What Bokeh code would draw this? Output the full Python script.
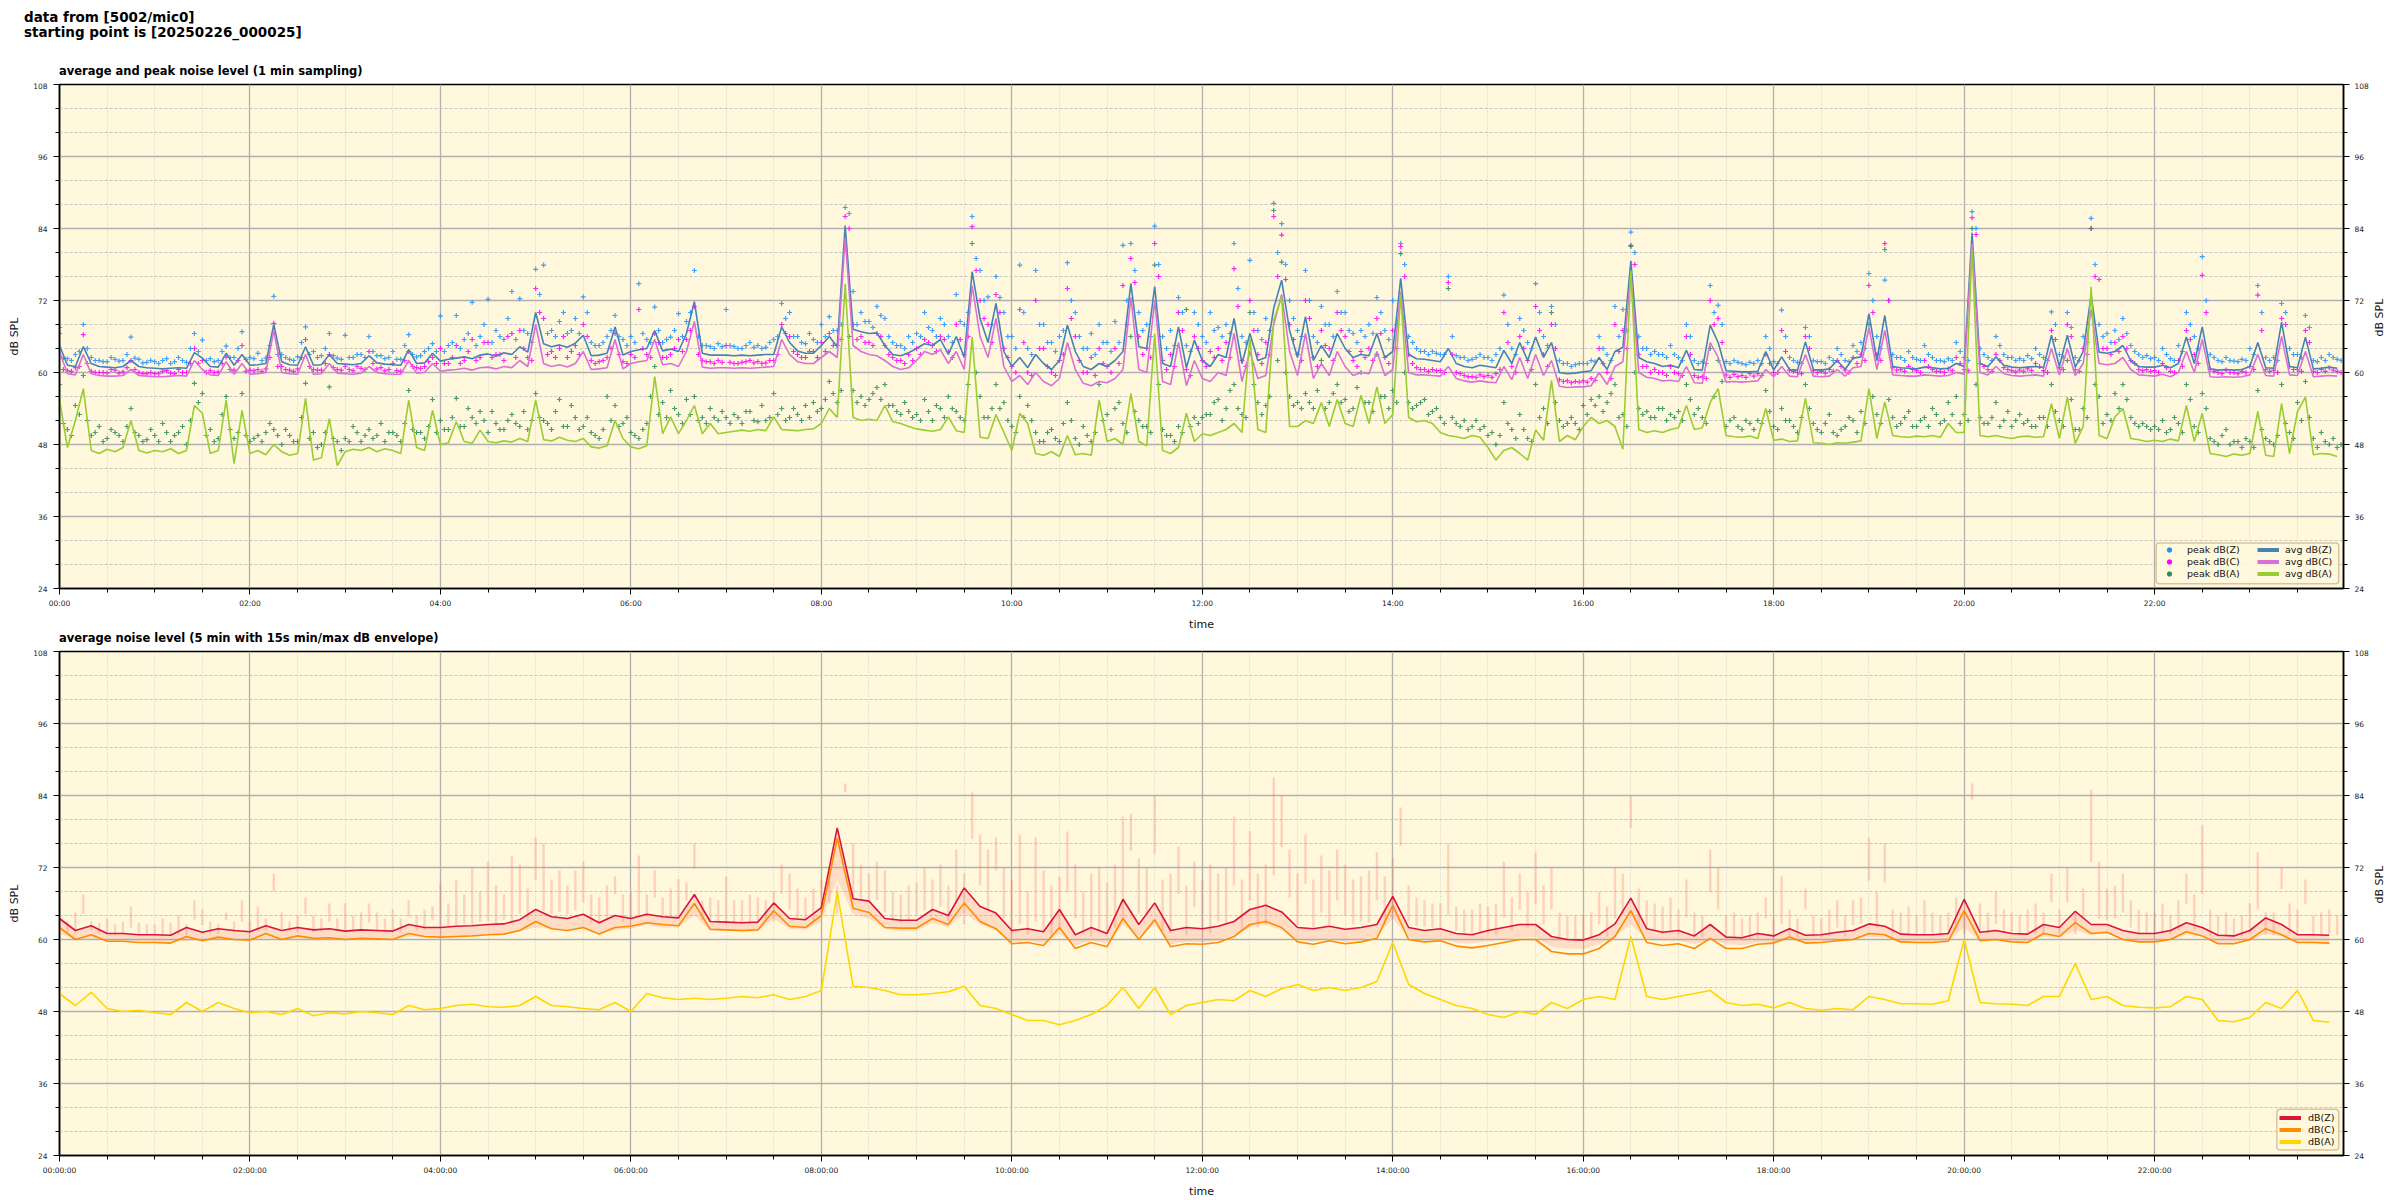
import math
from bokeh.plotting import figure
from bokeh.models import (Range1d, SingleIntervalTicker, LinearAxis, Legend, LegendItem,
                          Div, BoxAnnotation)
from bokeh.layouts import column
from bokeh.embed import file_html
from bokeh.resources import INLINE

# ---------------- data (minutes after 00:00) ----------------
t_top = list(range(0, 1440, 5))             # 1-min sampling, shown every 5 min
t_mid = [m + 2.5 for m in range(0, 1440, 5)]  # extra peak samples in between
t_bot = list(range(0, 1440, 10))            # 5-min averages, shown every 10 min

avg_z = [
    64.5, 61.2, 61.0, 64.3, 61.5, 61.0, 60.9, 60.8, 61.0, 62.0, 61.0, 60.8,
    60.7, 60.6, 60.7, 60.8, 60.7, 63.3, 62.4, 61.0, 60.9, 63.2, 61.2, 63.0,
    61.2, 61.3, 61.5, 68.0, 61.8, 61.3, 61.2, 64.3, 61.2, 61.3, 63.0, 61.5,
    61.4, 61.3, 61.5, 62.8, 61.6, 61.4, 61.3, 61.2, 63.8, 61.5, 61.6, 63.2,
    61.9, 62.2, 62.4, 62.6, 62.3, 62.9, 63.1, 62.7, 63.3, 63.0, 64.3, 63.4,
    70.0, 64.8, 64.3, 64.6, 64.2, 64.9, 66.2, 62.8, 62.9, 63.2, 67.6, 62.9,
    63.5, 63.8, 64.0, 67.0, 63.6, 63.9, 63.5, 66.5, 71.8, 63.2, 62.9, 62.9,
    62.9, 62.8, 62.9, 62.8, 62.9, 63.0, 63.0, 67.6, 65.0, 63.6, 63.2, 63.2,
    64.5, 66.0, 64.3, 84.5, 67.2, 66.8, 66.5, 66.6, 64.5, 63.0, 62.8, 63.3,
    64.0, 64.8, 64.5, 65.5, 63.0, 66.0, 62.5, 76.8, 69.0, 65.0, 71.5, 63.5,
    61.0, 62.5, 60.8, 63.0, 61.5, 60.5, 62.0, 67.9, 63.5, 61.0, 60.5, 61.5,
    61.0, 62.0, 63.5, 74.8, 64.3, 64.0, 74.3, 61.5, 61.0, 67.6, 60.8, 65.4,
    62.0, 61.0, 63.0, 62.5, 69.0, 61.5, 66.5, 62.0, 62.5, 70.7, 75.4, 67.0,
    62.5, 69.3, 62.0, 64.5, 62.5, 66.5, 64.0, 62.5, 63.0, 62.8, 66.5, 62.5,
    63.5, 75.7, 63.0, 62.3, 62.2, 62.0, 61.8, 64.0, 61.5, 61.0, 60.8, 61.2,
    61.0, 60.8, 63.7, 61.5, 65.0, 62.0, 65.9, 62.5, 65.0, 60.0, 59.8, 59.9,
    60.1, 60.3, 62.5, 60.5, 63.5, 64.2, 78.6, 62.5, 61.8, 61.5, 61.0, 61.2,
    60.8, 63.7, 60.5, 60.4, 67.9, 65.0, 60.3, 60.2, 60.1, 60.1, 60.2, 63.5,
    60.4, 62.6, 60.5, 60.4, 65.1, 60.5, 60.4, 60.6, 62.0, 60.5, 62.4, 62.6,
    69.8, 62.0, 69.5, 61.0, 60.8, 60.7, 60.6, 60.9, 60.8, 60.6, 60.7, 61.5,
    61.0, 83.3, 61.5, 61.0, 62.6, 61.2, 60.9, 60.8, 60.9, 61.0, 60.8, 66.2,
    61.0, 66.2, 60.9, 63.5, 72.9, 63.4, 63.2, 63.5, 64.5, 62.0, 61.0, 60.9,
    60.9, 61.2, 60.8, 61.5, 65.9, 61.5, 67.6, 60.6, 60.4, 60.5, 60.4, 60.5,
    61.0, 65.0, 60.8, 60.7, 68.4, 61.0, 60.8, 65.9, 60.6, 60.7, 60.9, 60.7,
]
avg_c = [
    63.5, 59.8, 59.6, 63.0, 59.8, 59.5, 59.4, 59.4, 59.5, 60.5, 59.5, 59.4,
    59.3, 59.3, 59.4, 59.5, 59.4, 62.0, 60.5, 59.6, 59.5, 61.8, 59.7, 61.5,
    59.7, 59.8, 60.0, 67.0, 60.0, 59.8, 59.7, 63.0, 59.7, 59.8, 61.5, 59.9,
    59.8, 59.7, 59.9, 61.0, 60.0, 59.8, 59.7, 59.7, 62.0, 59.9, 60.0, 61.5,
    60.2, 60.4, 60.5, 60.7, 60.4, 60.8, 60.9, 60.6, 61.0, 60.8, 62.0, 61.0,
    68.0, 61.5, 61.0, 61.3, 60.9, 61.5, 63.5, 60.5, 60.6, 60.8, 65.5, 60.6,
    61.5, 61.8, 62.0, 65.5, 61.3, 61.5, 61.0, 63.5, 68.5, 60.9, 60.7, 60.8,
    60.8, 60.7, 60.8, 60.7, 60.8, 60.9, 61.0, 65.5, 63.0, 61.8, 61.5, 61.5,
    62.5, 63.5, 62.5, 82.5, 64.5, 63.5, 63.0, 62.8, 62.0, 61.0, 60.5, 60.8,
    62.0, 63.5, 63.0, 63.8, 61.5, 63.5, 60.5, 74.5, 66.0, 62.5, 69.0, 61.0,
    58.5, 59.5, 58.0, 60.0, 58.5, 57.8, 59.0, 65.0, 60.5, 58.2, 57.8, 58.5,
    58.3, 59.0, 60.5, 72.5, 60.5, 60.0, 72.0, 58.5, 58.0, 65.0, 57.8, 62.0,
    59.0, 58.5, 60.0, 59.5, 66.5, 58.5, 63.5, 59.0, 59.5, 68.0, 73.0, 63.5,
    59.5, 66.5, 59.0, 61.5, 59.5, 63.5, 61.0, 59.5, 60.0, 59.8, 63.5, 59.5,
    60.5, 73.5, 60.0, 59.6, 59.6, 59.5, 59.4, 61.0, 59.0, 58.6, 58.4, 58.6,
    58.4, 58.3, 61.0, 58.8, 62.5, 59.0, 63.0, 59.5, 62.0, 57.7, 57.5, 57.6,
    57.6, 57.8, 60.0, 58.0, 61.0, 61.8, 76.5, 60.0, 59.2, 59.0, 58.6, 58.7,
    58.5, 61.0, 58.3, 58.2, 65.0, 62.5, 58.4, 58.5, 58.4, 58.5, 58.6, 60.5,
    59.3, 61.0, 59.4, 59.3, 63.0, 59.4, 59.3, 59.4, 60.5, 59.4, 60.8, 61.0,
    67.5, 60.5, 67.0, 59.6, 59.5, 59.4, 59.4, 59.6, 59.5, 59.4, 59.5, 60.0,
    59.7, 81.5, 60.0, 59.6, 61.0, 59.8, 59.5, 59.4, 59.5, 59.6, 59.4, 64.0,
    59.6, 64.0, 59.5, 61.5, 70.5, 61.5, 61.3, 61.5, 62.5, 60.5, 59.6, 59.5,
    59.4, 59.7, 59.3, 60.0, 63.5, 60.0, 65.5, 59.3, 59.2, 59.3, 59.2, 59.3,
    59.6, 63.0, 59.5, 59.4, 66.0, 59.6, 59.5, 63.5, 59.3, 59.4, 59.5, 59.4,
]
avg_a = [
    55.5, 47.5, 52.0, 57.3, 47.0, 46.5, 47.2, 46.8, 47.5, 52.0, 47.0, 46.6,
    47.0, 46.8, 47.3, 46.5, 47.0, 54.5, 53.2, 46.5, 47.0, 55.4, 44.8, 53.7,
    46.5, 47.0, 46.3, 48.0, 46.8, 46.2, 46.5, 55.7, 45.4, 45.8, 52.3, 44.5,
    46.8, 47.2, 47.0, 47.5, 46.8, 47.3, 47.0, 46.5, 55.4, 47.5, 47.0, 53.7,
    48.0, 48.3, 51.8, 48.5, 48.2, 50.4, 48.5, 48.3, 48.6, 48.4, 49.0, 48.5,
    55.4, 48.8, 48.6, 49.2, 48.7, 48.5, 49.0, 47.6, 47.4, 47.8, 52.0, 49.0,
    47.6, 47.3, 47.8, 59.3, 49.8, 52.6, 49.8, 52.0, 54.5, 49.8, 51.5, 49.8,
    50.0, 50.2, 50.4, 50.2, 50.5, 50.3, 52.6, 50.5, 50.4, 50.3, 50.5, 50.6,
    51.5, 54.0, 52.5, 74.8, 52.5, 52.0, 52.2, 52.0, 54.5, 51.8, 51.5, 51.0,
    50.6, 50.4, 50.2, 50.5, 52.6, 50.3, 50.0, 65.9, 49.2, 49.0, 53.0, 50.0,
    47.0, 53.2, 51.5, 46.5, 46.2, 46.8, 46.0, 49.5, 46.3, 46.5, 46.2, 55.4,
    48.5, 49.0, 48.0, 56.5, 48.5, 47.8, 66.5, 47.0, 46.5, 47.5, 53.2, 48.5,
    49.8, 49.5, 50.0, 50.5, 51.5, 50.0, 65.9, 50.5, 50.0, 68.7, 72.6, 51.0,
    51.0, 52.0, 51.5, 55.0, 51.0, 55.5, 51.5, 51.0, 56.2, 51.5, 57.6, 51.5,
    53.0, 73.0, 52.5, 51.8, 52.0, 51.5, 50.0, 49.5, 49.3, 49.0, 49.5, 49.2,
    47.5, 45.4, 47.0, 47.5, 46.5, 45.4, 50.4, 48.7, 58.7, 48.5, 49.5, 48.8,
    51.0, 52.5, 51.5, 52.0, 51.0, 47.2, 77.0, 50.5, 50.0, 50.3, 50.0, 50.5,
    50.8, 54.5, 50.5, 50.8, 55.0, 57.3, 49.5, 49.3, 49.2, 49.4, 49.0, 54.0,
    48.7, 48.9, 48.5, 48.6, 55.7, 48.3, 48.2, 48.0, 48.3, 48.2, 48.4, 48.6,
    57.3, 49.0, 55.1, 49.5, 49.3, 49.2, 49.4, 49.3, 49.5, 49.2, 51.5, 50.0,
    50.0, 80.5, 49.5, 49.3, 49.5, 49.2, 49.0, 49.3, 49.4, 49.2, 49.3, 54.8,
    49.0, 55.9, 48.2, 51.0, 74.3, 49.5, 49.0, 52.6, 54.0, 49.0, 48.8, 48.5,
    48.7, 48.5, 48.9, 48.6, 54.5, 48.5, 53.2, 46.5, 46.3, 46.0, 46.4, 46.2,
    46.5, 53.5, 46.2, 46.0, 54.8, 46.5, 53.5, 55.9, 46.3, 46.5, 46.4, 46.0,
]
peak_z = [
    67.5, 62.3, 63.0, 68.0, 62.5, 62.0, 61.8, 62.2, 62.0, 65.9, 62.2, 61.7,
    61.8, 62.0, 61.5, 62.5, 61.7, 66.5, 65.4, 62.3, 62.0, 64.4, 62.5, 66.8,
    62.5, 63.2, 62.4, 72.7, 63.0, 62.2, 62.6, 67.6, 63.5, 62.8, 66.5, 62.4,
    66.2, 62.5, 63.0, 66.0, 62.8, 62.3, 63.5, 62.2, 66.3, 62.6, 63.5, 64.8,
    69.4, 64.5, 69.5, 65.5, 71.7, 66.0, 72.2, 67.0, 65.5, 73.5, 72.3, 66.5,
    77.2, 77.9, 67.0, 68.5, 66.5, 69.0, 72.6, 65.0, 64.5, 66.0, 69.5, 65.5,
    66.0, 74.8, 65.5, 70.9, 65.0, 65.9, 69.8, 68.5, 77.0, 64.5, 64.3, 64.8,
    70.5, 64.3, 64.0, 65.0, 64.5, 64.2, 65.5, 71.5, 70.0, 66.0, 64.8, 65.5,
    68.0, 69.3, 67.0, 87.5, 73.5, 70.0, 68.5, 71.0, 69.0, 65.0, 64.5, 66.0,
    66.5, 70.0, 67.0, 69.0, 66.0, 73.0, 68.0, 86.0, 77.0, 72.6, 76.0, 70.0,
    66.0, 77.9, 64.0, 77.0, 68.0, 65.0, 66.0, 78.3, 70.0, 64.0, 66.5, 68.0,
    65.0, 68.5, 81.2, 81.5, 70.0, 68.0, 84.4, 66.0, 67.0, 72.5, 64.5, 70.0,
    66.0, 70.0, 67.5, 68.0, 81.5, 66.0, 78.7, 67.0, 69.0, 88.2, 84.8, 72.0,
    67.0, 77.0, 66.0, 71.0, 68.0, 73.5, 70.0, 66.5, 67.0, 68.0, 72.5, 67.0,
    72.0, 81.5, 66.0, 64.0, 63.5, 63.5, 63.0, 76.0, 62.8, 62.5, 62.2, 63.0,
    62.5, 63.0, 72.9, 64.0, 69.0, 65.0, 74.8, 66.0, 71.0, 62.0, 61.5, 61.3,
    61.5, 62.0, 66.0, 63.0, 71.0, 70.5, 83.4, 66.0, 64.0, 63.5, 63.0, 64.5,
    62.5, 68.0, 62.0, 61.8, 74.5, 71.2, 61.8, 62.0, 61.5, 61.7, 62.0, 66.0,
    61.8, 70.4, 62.5, 61.7, 67.5, 62.0, 61.8, 62.5, 64.0, 62.0, 64.5, 65.0,
    76.5, 66.0, 75.4, 63.0, 62.5, 63.5, 62.2, 64.5, 62.5, 62.0, 62.3, 65.0,
    62.5, 86.8, 64.0, 62.5, 66.0, 63.0, 62.5, 62.3, 62.8, 64.0, 62.5, 70.1,
    63.0, 70.0, 62.5, 66.0, 85.7, 68.0, 66.5, 67.0, 69.0, 64.5, 63.0, 62.8,
    62.5, 64.0, 62.3, 64.5, 70.0, 66.0, 79.3, 63.0, 62.0, 62.5, 61.9, 62.2,
    64.0, 74.5, 62.5, 62.5, 71.5, 64.0, 63.0, 69.5, 62.0, 62.5, 63.0, 62.2,
]
peak_c = [
    66.5, 60.3, 60.8, 66.3, 60.2, 60.0, 59.9, 60.4, 60.1, 62.0, 60.0, 59.8,
    59.8, 60.2, 59.9, 60.5, 60.0, 64.0, 62.0, 60.3, 60.1, 62.6, 60.4, 64.5,
    60.4, 60.5, 60.6, 68.2, 61.0, 60.4, 60.6, 65.5, 60.5, 60.4, 63.0, 60.5,
    61.0, 60.3, 60.7, 63.5, 60.6, 60.3, 61.5, 60.2, 63.5, 60.8, 61.0, 62.5,
    64.0, 61.5, 64.5, 62.0, 65.5, 62.5, 65.0, 63.0, 62.0, 66.5, 67.0, 62.5,
    74.0, 69.0, 63.5, 64.0, 62.5, 64.5, 68.0, 62.0, 61.8, 62.5, 66.5, 61.8,
    63.0, 70.5, 63.0, 66.5, 62.5, 63.0, 65.5, 65.5, 71.0, 62.0, 61.8, 62.0,
    64.5, 61.5, 61.7, 62.0, 61.8, 61.6, 62.0, 68.0, 66.0, 63.0, 62.5, 63.5,
    65.0, 66.5, 64.5, 86.0, 68.0, 66.0, 65.0, 66.5, 64.5, 62.5, 62.0, 63.0,
    64.0, 65.5, 64.5, 66.0, 63.5, 68.0, 63.0, 84.3, 72.0, 68.0, 73.0, 64.0,
    61.0, 70.5, 60.0, 72.0, 64.0, 60.0, 62.0, 74.0, 66.0, 60.0, 62.5, 64.0,
    61.0, 64.0, 74.5, 79.0, 66.0, 64.0, 81.5, 62.0, 63.0, 70.0, 60.5, 66.0,
    62.0, 63.5, 64.0, 65.0, 77.3, 62.0, 72.0, 63.0, 65.0, 86.0, 82.9, 68.0,
    63.0, 72.0, 62.5, 67.0, 64.0, 70.0, 66.0, 62.0, 63.5, 64.0, 69.0, 62.5,
    67.0, 81.0, 63.0, 60.8, 60.5, 60.5, 60.3, 75.0, 60.0, 59.5, 59.3, 59.6,
    59.5, 59.8, 70.0, 61.0, 66.0, 62.0, 71.0, 63.0, 68.0, 58.8, 58.6, 58.5,
    58.6, 59.0, 64.0, 60.0, 68.0, 67.0, 81.2, 63.0, 61.0, 60.5, 60.0, 61.0,
    59.8, 66.0, 59.5, 59.3, 72.0, 69.0, 59.6, 59.7, 59.5, 59.8, 59.8, 63.0,
    60.0, 67.0, 60.4, 60.0, 66.0, 60.3, 60.2, 60.5, 62.0, 60.4, 62.5, 63.0,
    74.5, 63.0, 81.5, 60.8, 60.5, 61.0, 60.3, 62.0, 60.5, 60.2, 60.6, 62.5,
    60.5, 85.8, 61.5, 60.5, 63.0, 60.8, 60.3, 60.4, 60.6, 61.5, 60.3, 67.0,
    60.8, 68.0, 60.5, 64.0, 84.0, 75.5, 64.0, 65.0, 66.0, 62.0, 60.5, 60.5,
    60.3, 61.5, 60.2, 62.0, 67.0, 63.0, 76.2, 60.5, 60.0, 60.4, 60.0, 60.2,
    61.0, 72.9, 60.5, 60.4, 69.0, 61.0, 60.5, 67.0, 60.2, 60.5, 60.8, 60.2,
]
peak_a = [
    58.0, 50.5, 54.5, 59.5, 49.5, 51.0, 49.0, 50.0, 48.5, 54.0, 49.5, 48.8,
    49.5, 51.5, 48.5, 50.0, 48.0, 58.2, 56.5, 50.5, 49.0, 56.0, 49.0, 56.5,
    48.5, 49.5, 50.0, 50.5, 48.0, 49.5, 48.5, 58.2, 50.0, 48.0, 57.6, 48.5,
    49.0, 51.0, 48.5, 50.5, 49.5, 48.5, 50.0, 48.5, 57.0, 50.0, 49.0, 55.5,
    52.0, 50.5, 55.7, 51.0, 52.5, 53.5, 50.0, 51.5, 50.5, 53.0, 51.0, 50.5,
    56.5, 52.0, 50.5, 55.5, 51.0, 52.5, 51.0, 50.0, 49.0, 56.0, 54.5, 51.5,
    50.0, 49.0, 51.5, 61.0, 55.0, 57.0, 53.0, 55.5, 56.0, 52.5, 54.0, 52.0,
    52.5, 53.0, 51.5, 53.5, 51.8, 52.0, 56.5, 54.0, 52.5, 53.0, 54.5, 55.0,
    54.0, 58.5, 55.0, 80.5, 57.0, 56.0, 55.5, 57.5, 58.0, 54.5, 53.0, 53.5,
    53.0, 55.5, 52.0, 54.0, 56.0, 53.5, 52.0, 81.5, 56.0, 52.5, 58.0, 55.0,
    51.0, 56.0, 54.5, 50.0, 48.5, 50.5, 48.5, 55.0, 49.0, 51.0, 48.5, 58.0,
    53.0, 54.0, 51.5, 66.0, 52.0, 51.0, 77.9, 50.5, 49.5, 51.0, 70.5, 52.5,
    52.5, 53.0, 55.5, 54.0, 58.0, 53.0, 70.0, 55.0, 54.5, 87.0, 78.4, 56.0,
    55.0, 56.5, 54.0, 62.0, 55.0, 58.0, 55.5, 54.0, 60.0, 55.0, 63.0, 56.0,
    57.0, 79.8, 55.0, 54.5, 55.5, 53.5, 52.5, 74.0, 51.5, 52.0, 51.0, 50.5,
    49.5, 48.0, 55.0, 50.5, 53.0, 49.0, 58.0, 54.0, 70.0, 52.0, 51.5, 51.5,
    54.5, 55.5, 56.0, 55.0, 58.0, 53.0, 81.0, 54.0, 53.5, 52.5, 54.0, 53.0,
    53.5, 58.0, 53.0, 52.5, 64.0, 62.0, 51.0, 52.5, 50.5, 51.5, 52.0, 57.0,
    51.0, 54.0, 52.0, 50.0, 58.0, 51.5, 50.0, 53.0, 49.5, 51.0, 52.0, 53.5,
    68.0, 53.0, 80.5, 52.5, 51.5, 53.5, 51.0, 52.5, 54.0, 51.5, 55.0, 56.0,
    53.0, 84.0, 52.5, 51.5, 55.0, 52.0, 51.0, 53.0, 52.0, 51.0, 52.5, 58.0,
    52.0, 62.0, 50.5, 54.0, 84.0, 56.0, 53.0, 56.5, 58.0, 52.5, 51.0, 51.0,
    51.0, 52.0, 50.5, 51.5, 58.0, 51.0, 56.5, 49.0, 48.0, 50.5, 48.5, 47.5,
    48.5, 57.0, 49.0, 48.0, 58.0, 50.0, 55.0, 58.5, 49.0, 50.0, 48.0, 47.5,
]
# peaks of the in-between minutes
peak_z_mid = [
    62.5, 62.0, 63.5, 64.0, 62.0, 61.8, 62.5, 61.9, 63.0, 62.4, 61.6, 62.0,
    61.5, 62.3, 61.8, 62.0, 64.0, 63.5, 62.0, 61.8, 63.5, 62.5, 64.0, 62.2,
    62.3, 62.0, 64.5, 63.0, 62.5, 62.0, 65.0, 63.0, 62.5, 64.0, 62.8, 62.2,
    62.5, 63.0, 62.5, 63.5, 62.8, 62.5, 62.2, 64.5, 63.0, 62.8, 64.0, 63.5,
    63.5, 65.0, 64.0, 66.5, 64.5, 68.0, 65.0, 66.0, 69.0, 65.5, 67.0, 65.0,
    73.0, 66.5, 66.0, 70.0, 67.0, 66.5, 70.0, 64.5, 65.0, 67.0, 66.0, 64.5,
    65.0, 66.5, 65.0, 67.0, 65.5, 67.0, 66.0, 70.0, 66.0, 64.5, 64.0, 64.3,
    64.5, 64.0, 64.5, 64.2, 64.0, 65.0, 66.0, 69.0, 66.0, 65.0, 66.5, 65.0,
    66.0, 67.0, 68.0, 86.5, 68.0, 68.5, 67.5, 69.5, 66.0, 64.5, 64.0, 65.0,
    66.0, 67.5, 66.0, 68.0, 65.0, 68.5, 70.0, 79.0, 72.0, 68.0, 72.5, 66.0,
    64.0, 70.0, 63.0, 68.0, 65.0, 63.5, 67.0, 72.0, 66.0, 64.0, 63.0, 65.0,
    63.5, 65.0, 72.0, 77.0, 67.0, 66.0, 78.0, 64.0, 64.5, 70.0, 63.5, 68.0,
    65.0, 67.0, 66.0, 66.5, 74.0, 65.0, 70.0, 65.5, 67.0, 80.0, 78.0, 69.0,
    66.0, 72.0, 65.0, 68.0, 66.0, 70.0, 67.0, 65.0, 66.0, 66.5, 70.0, 65.5,
    68.0, 78.0, 65.0, 63.5, 63.0, 63.2, 63.0, 66.0, 62.5, 62.0, 62.5, 62.5,
    62.0, 64.0, 68.0, 63.0, 67.0, 64.0, 70.0, 64.5, 68.0, 61.5, 61.0, 61.5,
    61.5, 61.8, 64.0, 62.0, 66.0, 67.0, 80.0, 64.0, 63.0, 63.0, 62.5, 63.0,
    62.0, 66.0, 61.5, 61.5, 70.0, 68.0, 61.5, 61.7, 61.3, 61.5, 61.5, 64.0,
    61.5, 66.0, 62.0, 61.5, 66.0, 61.8, 61.5, 62.0, 63.0, 61.8, 63.5, 64.0,
    72.0, 64.0, 72.0, 62.5, 62.0, 62.5, 62.0, 63.0, 62.0, 61.8, 62.0, 63.5,
    62.0, 84.0, 63.0, 62.0, 64.5, 62.5, 62.0, 62.0, 62.3, 63.0, 62.0, 68.0,
    62.5, 67.5, 62.0, 65.0, 78.0, 66.0, 65.0, 65.5, 66.5, 63.5, 62.5, 62.3,
    62.0, 63.0, 62.0, 63.5, 68.0, 64.0, 72.0, 62.5, 61.8, 62.0, 61.8, 62.0,
    63.0, 70.0, 62.0, 62.0, 70.0, 63.0, 62.5, 67.5, 61.8, 62.0, 62.5, 62.0,
]
peak_c_mid = [
    60.5, 60.2, 61.0, 61.5, 60.0, 60.0, 60.5, 59.9, 60.8, 60.5, 59.8, 60.0,
    59.8, 60.3, 59.8, 60.0, 61.5, 61.5, 60.0, 60.0, 61.5, 60.5, 62.0, 60.2,
    60.3, 60.2, 62.5, 61.0, 60.5, 60.2, 62.5, 61.0, 60.4, 61.5, 60.8, 60.4,
    60.5, 61.0, 60.5, 61.5, 60.8, 60.5, 60.3, 62.0, 61.0, 60.7, 61.8, 61.5,
    61.5, 62.5, 61.5, 63.5, 62.0, 65.0, 62.5, 63.0, 66.0, 62.5, 64.0, 62.0,
    70.0, 63.0, 62.5, 66.0, 63.5, 63.0, 66.0, 61.5, 62.0, 64.0, 63.0, 61.5,
    62.5, 64.0, 62.5, 65.0, 62.5, 64.0, 63.5, 67.0, 63.0, 61.8, 61.5, 61.7,
    61.7, 61.5, 61.8, 61.6, 61.5, 62.0, 63.0, 66.5, 63.5, 62.5, 63.5, 62.5,
    63.5, 64.5, 65.5, 84.0, 65.5, 65.0, 64.5, 66.0, 63.0, 62.0, 61.5, 62.0,
    63.0, 65.0, 63.5, 65.5, 62.5, 65.5, 66.0, 77.0, 69.0, 65.0, 70.0, 62.5,
    60.0, 65.0, 59.5, 64.0, 61.0, 59.5, 63.0, 69.0, 62.0, 60.0, 59.5, 61.5,
    60.0, 61.5, 68.0, 75.0, 63.0, 62.5, 76.0, 60.5, 61.0, 67.0, 59.5, 64.0,
    61.0, 62.5, 62.0, 62.5, 71.0, 61.0, 67.0, 61.5, 63.0, 76.0, 75.5, 65.5,
    62.0, 69.0, 61.0, 64.5, 62.0, 67.0, 63.5, 61.0, 62.5, 62.0, 66.5, 61.5,
    64.0, 76.0, 61.5, 60.5, 60.2, 60.3, 60.0, 63.0, 59.8, 59.3, 59.2, 59.3,
    59.2, 60.5, 65.0, 60.0, 64.0, 60.5, 67.0, 61.0, 64.0, 58.5, 58.3, 58.4,
    58.4, 58.7, 61.5, 59.0, 63.5, 64.0, 78.0, 61.0, 60.0, 60.0, 59.5, 60.0,
    59.5, 63.0, 59.2, 59.0, 68.0, 65.0, 59.2, 59.3, 59.2, 59.4, 59.5, 61.5,
    60.0, 63.5, 60.2, 59.8, 64.0, 60.0, 59.9, 60.2, 61.0, 60.0, 61.5, 62.0,
    70.0, 62.0, 72.0, 60.4, 60.2, 60.5, 60.0, 61.0, 60.2, 60.0, 60.3, 61.5,
    60.3, 83.0, 61.0, 60.2, 62.0, 60.5, 60.1, 60.2, 60.3, 61.0, 60.0, 65.5,
    60.5, 66.0, 60.2, 63.0, 76.0, 64.0, 63.0, 63.5, 64.0, 61.5, 60.3, 60.2,
    60.0, 60.8, 60.0, 61.0, 65.5, 61.5, 70.0, 60.2, 59.8, 60.0, 59.8, 60.0,
    60.5, 67.0, 60.2, 60.0, 68.0, 60.5, 60.2, 65.0, 60.0, 60.2, 60.4, 60.0,
]
peak_a_mid = [
    51.5, 49.5, 53.0, 52.0, 50.0, 48.5, 50.5, 49.5, 51.0, 50.0, 48.5, 50.5,
    48.5, 50.0, 49.5, 51.0, 52.0, 55.0, 49.5, 48.5, 53.0, 50.5, 50.0, 49.5,
    49.0, 48.5, 51.5, 49.5, 50.5, 48.5, 52.5, 49.0, 47.5, 50.0, 49.0, 47.0,
    48.5, 50.0, 49.5, 49.0, 51.5, 50.0, 49.5, 51.5, 50.5, 50.0, 51.0, 50.0,
    50.5, 52.5, 51.0, 54.0, 51.5, 52.0, 53.5, 50.5, 52.0, 51.5, 53.5, 52.0,
    52.5, 51.5, 53.5, 51.0, 54.5, 50.5, 52.5, 49.5, 50.5, 52.0, 51.0, 52.5,
    49.5, 50.5, 56.0, 53.0, 52.5, 54.0, 51.5, 53.0, 52.0, 51.5, 52.5, 53.5,
    51.5, 52.5, 53.5, 52.0, 54.5, 52.5, 53.0, 52.0, 54.0, 52.0, 52.5, 53.5,
    55.5, 56.5, 57.0, 66.0, 55.0, 54.5, 56.5, 55.5, 54.5, 53.5, 55.0, 52.5,
    52.0, 53.5, 54.5, 52.5, 54.0, 52.5, 58.0, 60.0, 52.5, 54.0, 54.0, 52.0,
    50.0, 52.5, 52.0, 48.5, 50.0, 49.0, 51.5, 52.0, 48.0, 49.5, 50.0, 52.0,
    50.5, 55.0, 50.0, 53.5, 51.0, 50.0, 58.0, 49.5, 48.5, 50.0, 51.0, 51.5,
    53.0, 55.0, 52.0, 57.0, 54.0, 52.5, 58.0, 53.0, 56.0, 62.0, 60.0, 54.5,
    54.0, 55.0, 57.0, 54.0, 56.5, 55.0, 53.5, 57.5, 55.0, 53.5, 56.0, 54.0,
    55.0, 60.0, 54.0, 55.0, 53.0, 54.0, 51.5, 52.5, 51.0, 50.5, 52.0, 51.0,
    50.0, 49.5, 51.5, 49.0, 50.5, 48.5, 52.5, 51.5, 55.0, 51.0, 52.5, 50.5,
    53.0, 54.5, 53.5, 56.5, 52.5, 51.0, 60.0, 53.0, 52.5, 54.0, 52.0, 52.5,
    52.0, 55.5, 54.0, 51.5, 56.0, 58.5, 52.0, 51.0, 52.0, 50.5, 51.5, 53.5,
    50.5, 52.0, 51.0, 52.5, 54.0, 50.5, 51.5, 50.0, 50.5, 52.5, 50.0, 51.5,
    56.0, 51.5, 55.5, 51.0, 52.5, 51.0, 52.0, 51.0, 53.0, 52.0, 53.0, 51.5,
    52.0, 58.0, 51.5, 52.5, 51.0, 53.5, 52.0, 51.5, 51.0, 52.5, 51.0, 53.5,
    51.0, 55.5, 50.5, 52.5, 58.0, 51.5, 52.0, 54.0, 55.5, 51.5, 51.5, 50.5,
    50.5, 50.0, 52.5, 50.0, 55.5, 50.0, 54.0, 48.5, 49.5, 48.0, 48.5, 49.0,
    47.5, 50.5, 48.5, 49.5, 51.5, 49.0, 52.0, 52.5, 47.5, 48.5, 49.0, 48.0,
]

# 5-min averages
db_z = [
    63.5, 61.5, 62.3, 61.0, 61.0, 60.8,   60.8, 60.7, 62.0, 61.2, 61.8, 61.5,
    61.3, 62.3, 61.5, 62.0, 61.6, 61.8,   61.4, 61.6, 61.5, 61.4, 62.5, 62.0,
    62.0, 62.2, 62.3, 62.5, 62.6, 63.3,   65.0, 63.8, 63.5, 64.2, 62.8, 64.0,
    63.5, 64.2, 63.8, 63.6, 67.5, 63.0,   62.9, 62.8, 62.9, 66.1, 63.5, 63.3,
    65.3, 78.6, 66.8, 66.4, 63.5, 63.2,   63.2, 65.0, 64.0, 68.6, 65.5, 64.4,
    61.5, 61.8, 61.3, 65.0, 60.8, 62.0,   61.0, 66.7, 62.5, 66.1, 61.5, 62.0,
    61.8, 62.2, 63.0, 65.0, 65.7, 64.6,   62.0, 61.8, 62.2, 61.7, 62.0, 62.5,
    67.2, 62.0, 61.5, 61.8, 61.0, 60.8,   61.5, 62.0, 62.5, 62.5, 60.5, 60.0,
    59.9, 60.8, 62.6, 66.9, 61.8, 61.2,   61.5, 60.6, 62.5, 60.4, 60.3, 61.0,
    60.6, 61.8, 60.7, 60.8, 61.2, 61.5,   62.6, 62.2, 60.9, 60.8, 60.8, 61.0,
    66.7, 61.2, 61.5, 61.0, 60.9, 62.5,   62.0, 64.7, 62.5, 62.5, 61.5, 61.0,
    61.0, 61.5, 62.8, 62.0, 60.7, 60.6,   61.5, 63.6, 62.5, 60.8, 60.8, 60.7,
]
db_c = [
    62.0, 60.0, 60.8, 59.7, 59.7, 59.5,   59.5, 59.4, 60.5, 59.8, 60.4, 60.0,
    59.9, 61.0, 60.0, 60.6, 60.2, 60.3,   60.0, 60.2, 60.1, 60.0, 61.0, 60.5,
    60.4, 60.5, 60.6, 60.8, 60.9, 61.5,   63.0, 61.8, 61.5, 62.0, 60.9, 62.0,
    62.2, 62.8, 62.5, 62.3, 66.0, 61.7,   61.6, 61.5, 61.6, 64.8, 62.2, 62.0,
    64.0, 76.9, 65.2, 64.5, 62.0, 61.9,   61.9, 63.5, 62.5, 66.1, 63.0, 61.8,
    59.3, 59.5, 59.0, 62.0, 58.5, 59.5,   58.8, 63.5, 60.0, 63.3, 58.8, 59.3,
    59.2, 59.5, 60.5, 62.5, 63.0, 62.0,   59.6, 59.2, 59.8, 59.3, 59.6, 60.2,
    65.7, 60.0, 59.6, 59.8, 58.9, 58.6,   59.0, 59.5, 60.0, 60.0, 58.0, 57.6,
    57.6, 58.5, 60.5, 64.8, 59.5, 59.0,   59.3, 58.5, 60.2, 58.5, 58.5, 59.2,
    59.4, 60.4, 59.4, 59.5, 59.8, 60.0,   61.0, 60.8, 59.6, 59.5, 59.5, 59.7,
    64.8, 59.8, 60.0, 59.6, 59.5, 61.0,   60.5, 62.8, 61.0, 61.2, 60.0, 59.6,
    59.6, 60.0, 61.3, 60.6, 59.3, 59.3,   60.0, 61.8, 60.8, 59.5, 59.5, 59.4,
]
db_a = [
    51.0, 49.0, 51.2, 48.5, 48.0, 48.2,   47.8, 47.5, 49.5, 48.0, 49.5, 48.5,
    47.8, 48.0, 47.5, 48.5, 47.3, 47.8,   47.6, 48.0, 47.8, 47.5, 49.0, 48.3,
    48.5, 49.0, 49.2, 48.8, 48.7, 49.0,   50.5, 49.0, 48.8, 48.5, 48.3, 49.5,
    48.0, 51.0, 50.3, 50.0, 50.2, 50.0,   50.2, 50.5, 50.3, 50.8, 50.0, 50.5,
    51.5, 67.9, 52.2, 52.0, 51.5, 50.8,   50.8, 51.0, 51.3, 52.2, 49.0, 48.5,
    47.5, 46.5, 46.5, 45.8, 46.5, 47.5,   49.0, 52.0, 48.5, 52.0, 47.5, 49.0,
    49.5, 50.0, 49.8, 51.5, 50.5, 51.8,   52.5, 51.5, 52.0, 51.5, 52.0, 53.0,
    59.5, 52.5, 51.0, 50.0, 49.0, 48.5,   47.5, 47.0, 48.0, 47.5, 49.5, 48.5,
    50.0, 50.5, 50.0, 60.5, 50.5, 50.0,   50.5, 51.0, 51.5, 49.5, 49.0, 49.2,
    48.6, 49.5, 48.5, 48.2, 48.5, 48.3,   50.5, 50.0, 49.3, 49.3, 49.2, 49.8,
    60.0, 49.5, 49.3, 49.2, 49.0, 50.5,   50.5, 56.0, 50.0, 50.5, 49.0, 48.7,
    48.6, 48.8, 50.5, 50.0, 46.5, 46.3,   47.0, 49.5, 48.5, 51.5, 46.5, 46.2,
]
# 15 s min/max envelope
env_max = [
    66.0, 63.0, 64.5, 67.5, 63.0, 62.8, 63.5, 62.5, 63.0, 65.5, 62.8, 62.5,
    62.5, 63.5, 62.8, 64.0, 62.5, 66.5, 65.0, 63.0, 62.5, 64.5, 63.0, 66.5,
    63.0, 65.5, 63.5, 71.0, 64.5, 63.0, 64.0, 67.0, 64.0, 63.5, 66.0, 63.5,
    66.0, 64.0, 64.5, 66.0, 64.5, 63.5, 65.0, 63.5, 66.5, 64.0, 65.0, 65.5,
    69.5, 66.0, 70.0, 67.5, 72.0, 68.0, 73.0, 69.0, 67.5, 74.0, 72.5, 68.5,
    77.0, 76.0, 70.0, 71.5, 69.0, 71.5, 73.0, 67.5, 67.0, 69.0, 70.5, 67.5,
    68.0, 74.0, 67.5, 71.5, 67.0, 68.5, 70.0, 69.5, 76.0, 66.5, 67.0, 66.5,
    70.5, 66.5, 66.5, 67.5, 67.0, 66.5, 68.0, 72.5, 71.0, 68.5, 67.0, 68.5,
    70.0, 71.5, 69.0, 86.0, 76.0, 72.5, 71.0, 73.0, 71.5, 68.0, 67.5, 69.0,
    69.5, 72.0, 70.0, 72.5, 69.0, 75.0, 71.0, 84.5, 77.5, 75.0, 77.0, 72.0,
    70.0, 77.5, 68.0, 77.0, 71.5, 69.0, 70.5, 78.0, 72.5, 68.0, 71.0, 72.0,
    69.5, 72.5, 80.5, 81.0, 73.5, 72.0, 84.0, 70.0, 71.0, 75.5, 69.0, 73.0,
    70.0, 72.5, 71.0, 72.0, 80.5, 70.0, 78.0, 71.0, 72.5, 87.0, 84.0, 75.0,
    71.0, 77.5, 70.0, 74.0, 71.5, 75.0, 72.5, 70.0, 70.5, 71.5, 74.5, 70.5,
    73.5, 82.0, 69.0, 67.0, 66.5, 66.0, 66.0, 76.0, 65.5, 65.0, 65.0, 66.0,
    65.5, 66.0, 73.0, 67.0, 71.0, 68.0, 74.5, 69.0, 72.0, 64.5, 64.0, 64.0,
    64.0, 64.5, 68.0, 65.5, 72.0, 71.0, 84.0, 68.5, 66.5, 66.0, 65.5, 67.0,
    65.0, 70.0, 64.5, 64.0, 75.0, 72.0, 64.0, 64.5, 63.5, 64.0, 64.5, 67.0,
    63.5, 70.5, 65.0, 63.5, 68.5, 64.0, 63.5, 65.0, 66.5, 64.0, 66.5, 67.0,
    77.0, 68.0, 76.0, 65.0, 64.5, 65.5, 64.0, 66.5, 64.5, 64.0, 64.5, 67.0,
    64.5, 86.0, 66.0, 64.5, 68.0, 65.0, 64.5, 64.0, 65.0, 66.0, 64.5, 71.0,
    65.0, 72.0, 64.5, 68.5, 85.0, 73.0, 68.5, 69.0, 71.0, 66.5, 65.0, 64.5,
    64.5, 66.0, 64.0, 66.5, 71.0, 67.5, 79.0, 65.0, 64.0, 64.5, 63.5, 64.0,
    66.0, 74.5, 64.5, 64.5, 72.0, 66.0, 65.0, 70.0, 64.0, 64.5, 65.0, 64.0,
]
env_min = [
    61.0, 60.0, 60.2, 59.8, 59.8, 59.7,   59.6, 59.5, 59.8, 59.8, 60.0, 60.0,
    59.9, 60.2, 60.0, 60.2, 60.0, 60.2,   60.0, 60.2, 60.1, 60.0, 60.5, 60.4,
    60.5, 60.6, 60.8, 60.9, 61.0, 61.4,   62.0, 61.8, 61.6, 61.8, 61.0, 61.6,
    61.8, 62.4, 62.0, 62.0, 64.0, 61.4,   61.4, 61.3, 61.4, 63.5, 61.8, 61.6,
    63.0, 70.0, 64.2, 63.5, 61.8, 61.4,   61.5, 62.8, 62.0, 64.5, 62.5, 61.5,
    59.5, 59.8, 59.3, 61.0, 59.0, 59.8,   59.3, 62.5, 60.3, 62.5, 59.2, 59.6,
    59.5, 59.8, 60.8, 62.0, 62.5, 61.5,   60.0, 59.6, 60.2, 59.6, 60.0, 60.5,
    63.5, 60.3, 60.0, 60.2, 59.5, 59.3,   59.8, 60.0, 60.3, 60.4, 58.8, 58.5,
    58.4, 59.2, 60.5, 62.5, 60.0, 59.8,   59.8, 59.2, 60.0, 59.2, 59.0, 59.5,
    59.4, 60.0, 59.4, 59.5, 59.8, 60.0,   60.5, 60.3, 59.6, 59.5, 59.5, 59.8,
    62.0, 59.8, 60.0, 59.7, 59.6, 60.5,   60.3, 61.5, 60.8, 61.0, 60.0, 59.7,
    59.7, 60.0, 60.8, 60.5, 59.4, 59.4,   59.8, 61.0, 60.5, 59.5, 59.5, 59.4,
]

for s in (avg_z, avg_c, avg_a, peak_z, peak_c, peak_a, env_max,
          peak_z_mid, peak_c_mid, peak_a_mid):
    assert len(s) == len(t_top), len(s)
for s in (db_z, db_c, db_a, env_min):
    assert len(s) == len(t_bot), len(s)

# ---------------- styling ----------------
FONT = "DejaVu Sans"
BG = "#FFF8DC"
LEG_EDGE = "#dcc49c"


def make_fig(bottom_border, fmt):
    p = figure(frame_width=2284, frame_height=504,
               x_range=Range1d(0, 1439), y_range=Range1d(24, 108),
               min_border_left=59, min_border_right=57, min_border_top=2,
               min_border_bottom=bottom_border,
               output_backend="svg", toolbar_location=None,
               background_fill_color=BG, border_fill_color="white")
    xt = SingleIntervalTicker(interval=120, num_minor_ticks=4)
    yt = SingleIntervalTicker(interval=12, num_minor_ticks=3)
    p.xaxis.ticker = xt
    p.xgrid.ticker = xt
    p.yaxis.ticker = yt
    p.ygrid.ticker = yt
    p.xaxis.major_label_overrides = {m: fmt(m) for m in range(0, 1440, 120)}
    p.xaxis.axis_label = "time"
    p.yaxis.axis_label = "dB SPL"
    ra = LinearAxis(ticker=SingleIntervalTicker(interval=12, num_minor_ticks=3),
                    axis_label="dB SPL")
    p.add_layout(ra, "right")
    try:
        ra.axis_label_orientation = math.pi / 2
    except Exception:
        pass
    axes = [p.xaxis[0], p.yaxis[0], ra]
    for ax in axes:
        ax.axis_line_color = "black"
        ax.axis_line_width = 1.5
        ax.major_tick_line_color = "black"
        ax.minor_tick_line_color = "black"
        ax.major_tick_out = 6
        ax.major_tick_in = 0
        ax.minor_tick_out = 4
        ax.minor_tick_in = 0
        ax.major_label_text_font = FONT
        ax.major_label_text_font_size = "7.5px"
        ax.major_label_text_color = "#222222"
        ax.axis_label_text_font = FONT
        ax.axis_label_text_font_size = "11px"
        ax.axis_label_text_font_style = "normal"
        ax.axis_label_text_color = "#111111"
    p.xaxis[0].major_label_standoff = 4
    p.xaxis[0].axis_label_standoff = 7
    p.yaxis[0].major_label_standoff = 6
    p.yaxis[0].axis_label_standoff = 9
    ra.major_label_standoff = 5
    ra.axis_label_standoff = 8
    p.outline_line_color = "black"
    p.outline_line_width = 1.5
    p.outline_line_alpha = 1.0
    p.xgrid.grid_line_color = "#b0b0b0"
    p.xgrid.grid_line_width = 1.3
    p.xgrid.minor_grid_line_color = "#c8c8c8"
    p.xgrid.minor_grid_line_dash = "1 2"
    p.xgrid.minor_grid_line_width = 0.9
    p.ygrid.grid_line_color = "#b0b0b0"
    p.ygrid.grid_line_width = 1.5
    p.ygrid.minor_grid_line_color = "#bdbdbd"
    p.ygrid.minor_grid_line_dash = "3 2"
    p.ygrid.minor_grid_line_width = 0.9
    return p


def bare_legend(items, loc, standoff):
    lg = Legend(items=items, location=loc)
    lg.label_text_font = FONT
    lg.label_text_font_size = "9.5px"
    lg.label_text_color = "#111111"
    lg.label_height = 11
    lg.glyph_height = 11
    lg.glyph_width = 22
    lg.label_standoff = standoff
    lg.spacing = 1
    lg.padding = 0
    lg.margin = 0
    lg.background_fill_alpha = 0
    lg.border_line_color = None
    return lg


def legend_box(left, right, bottom, top):
    b = BoxAnnotation(left=left, right=right, bottom=bottom, top=top,
                      fill_color=BG, fill_alpha=0.85,
                      line_color=LEG_EDGE, line_width=1.5, line_alpha=1.0)
    try:
        b.border_radius = 3
    except Exception:
        pass
    return b


# ---------------- top figure ----------------
p1 = make_fig(39, lambda m: f"{m // 60:02d}:00")

for tt, pz, pc, pa in ((t_top, peak_z, peak_c, peak_a),
                       (t_mid, peak_z_mid, peak_c_mid, peak_a_mid)):
    p1.scatter(tt, pz, marker="cross", size=5, line_width=1.2,
               line_color="#1E90FF", line_alpha=0.85)
    p1.scatter(tt, pc, marker="cross", size=5, line_width=1.2,
               line_color="#FF00FF", line_alpha=0.85)
    p1.scatter(tt, pa, marker="cross", size=5, line_width=1.2,
               line_color="#2E8B57", line_alpha=0.85)
p1.line(t_top, avg_z, line_color="#4682B4", line_width=1.6)
p1.line(t_top, avg_c, line_color="#DA70D6", line_width=1.6)
p1.line(t_top, avg_a, line_color="#9ACD32", line_width=1.6)

# legend proxies (outside the visible range)
g_pz = p1.scatter([-500], [-500], marker="circle", size=5, color="#1E90FF")
g_pc = p1.scatter([-500], [-500], marker="circle", size=5, color="#FF00FF")
g_pa = p1.scatter([-500], [-500], marker="circle", size=5, color="#2E8B57")
g_az = p1.line([-500, -499], [-500, -500], line_color="#4682B4", line_width=4)
g_ac = p1.line([-500, -499], [-500, -500], line_color="#DA70D6", line_width=4)
g_aa = p1.line([-500, -499], [-500, -500], line_color="#9ACD32", line_width=4)

p1.add_layout(legend_box(1321, 1436, 24.8, 31.6))
p1.add_layout(bare_legend([
    LegendItem(label="peak dB(Z)", renderers=[g_pz]),
    LegendItem(label="peak dB(C)", renderers=[g_pc]),
    LegendItem(label="peak dB(A)", renderers=[g_pa]),
], (2099, 9), 7))
p1.add_layout(bare_legend([
    LegendItem(label="avg dB(Z)", renderers=[g_az]),
    LegendItem(label="avg dB(C)", renderers=[g_ac]),
    LegendItem(label="avg dB(A)", renderers=[g_aa]),
], (2198, 9), 6))

# ---------------- bottom figure ----------------
p2 = make_fig(51, lambda m: f"{m // 60:02d}:00:00")
# min/max envelope: base band plus 15 s maxima spikes
p2.patch(t_bot + t_bot[::-1], db_z + env_min[::-1],
         fill_color="salmon", fill_alpha=0.22, line_color=None)
p2.segment(x0=t_top, y0=avg_z, x1=t_top, y1=env_max,
           line_color="salmon", line_alpha=0.32, line_width=2.4)
p2.line(t_bot, db_z, line_color="#DC143C", line_width=1.6)
p2.line(t_bot, db_c, line_color="#FF8C00", line_width=1.6)
p2.line(t_bot, db_a, line_color="#FFD700", line_width=1.6)
g_z = p2.line([-500, -499], [-500, -500], line_color="#DC143C", line_width=4)
g_c = p2.line([-500, -499], [-500, -500], line_color="#FF8C00", line_width=4)
g_a = p2.line([-500, -499], [-500, -500], line_color="#FFD700", line_width=4)
p2.add_layout(legend_box(1397, 1436, 24.9, 31.7))
p2.add_layout(bare_legend([
    LegendItem(label="dB(Z)", renderers=[g_z]),
    LegendItem(label="dB(C)", renderers=[g_c]),
    LegendItem(label="dB(A)", renderers=[g_a]),
], (2220, 8), 7))

# ---------------- titles ----------------
head = Div(text=(
    '<div style="position:relative;width:2400px;height:82px;font-family:\'DejaVu Sans\';color:#000;">'
    '<div style="position:absolute;left:24px;top:10px;font-weight:bold;font-size:13.5px;line-height:15px;white-space:nowrap;">'
    'data from [5002/mic0]<br>starting point is [20250226_000025]</div>'
    '<div style="position:absolute;left:59px;top:64px;font-weight:bold;font-size:11.5px;line-height:15px;white-space:nowrap;">'
    'average and peak noise level (1 min sampling)</div></div>'),
    width=2400, height=82, margin=0)
sub2 = Div(text=(
    '<div style="position:relative;width:2400px;height:16px;font-family:\'DejaVu Sans\';color:#000;">'
    '<div style="position:absolute;left:59px;top:0px;font-weight:bold;font-size:11.5px;line-height:11px;white-space:nowrap;">'
    'average noise level (5 min with 15s min/max dB envelope)</div></div>'),
    width=2400, height=16, margin=0)

layout = column(head, p1, sub2, p2, spacing=0)
open("out.html", "w").write(file_html(layout, INLINE))
